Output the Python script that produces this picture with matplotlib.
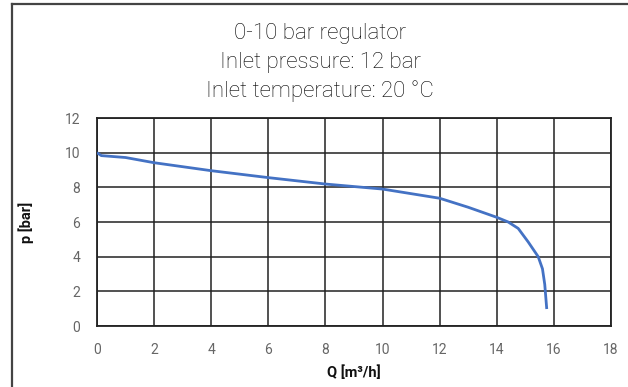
import matplotlib
matplotlib.use("Agg")
import matplotlib.pyplot as plt
from matplotlib.lines import Line2D

title_lines = ["0-10 bar regulator", "Inlet pressure: 12 bar", "Inlet temperature: 20 °C"]
flow_q = [0.0, 0.15, 1.0, 2.0, 4.0, 6.0, 8.0, 10.0, 12.0, 13.0, 14.0, 14.4, 14.75, 15.1, 15.45, 15.6, 15.68, 15.75]
pressure_p = [10.0, 9.83, 9.72, 9.42, 8.96, 8.56, 8.19, 7.9, 7.37, 6.85, 6.27, 6.0, 5.63, 4.85, 4.0, 3.3, 2.4, 0.98]
x_ticks = [0, 2, 4, 6, 8, 10, 12, 14, 16, 18]
y_ticks = [0, 2, 4, 6, 8, 10, 12]
x_label = "Q [m³/h]"
y_label = "p [bar]"

W, H = 628, 387
fig = plt.figure(figsize=(W / 100, H / 100), dpi=100)
fig.patch.set_facecolor("white")

# outer frame (top and left edges visible)
fig.add_artist(Line2D([11.5 / W, 11.5 / W], [0, 1 - 3.5 / H], transform=fig.transFigure, color="#444444", lw=1.6))
fig.add_artist(Line2D([11.5 / W, 1.0], [1 - 3.5 / H, 1 - 3.5 / H], transform=fig.transFigure, color="#444444", lw=1.6))

ax = fig.add_axes([97 / W, (H - 326) / H, 514 / W, 208 / H])
ax.plot(flow_q, pressure_p, color="#4472C4", lw=2.0, solid_capstyle="butt", zorder=3)
ax.set_xlim(0, 18)
ax.set_ylim(0, 12)
ax.set_xticks(x_ticks)
ax.set_yticks(y_ticks)
ax.grid(True, color="#222222", lw=1.1)
ax.set_axisbelow(True)
for s in ax.spines.values():
    s.set_color("#222222")
    s.set_linewidth(1.3)
ax.tick_params(length=0, labelsize=10, labelcolor="#666666", pad=12)
for lab in ax.get_xticklabels() + ax.get_yticklabels():
    lab.set_fontfamily("Roboto")
ax.set_xlabel(x_label, fontsize=10.5, fontfamily="Roboto", fontweight="bold", labelpad=6, color="#111111")
ax.set_ylabel(y_label, fontsize=10.5, fontfamily="Roboto", fontweight="bold", labelpad=22, color="#111111")

baselines = [39.5, 68.3, 96.8]
for t, y in zip(title_lines, baselines):
    fig.text(320 / W, 1 - y / H, t, ha="center", va="baseline", fontsize=16,
             fontfamily="Roboto", fontweight="light", color="#000000")

fig.savefig("out.png", dpi=100)
